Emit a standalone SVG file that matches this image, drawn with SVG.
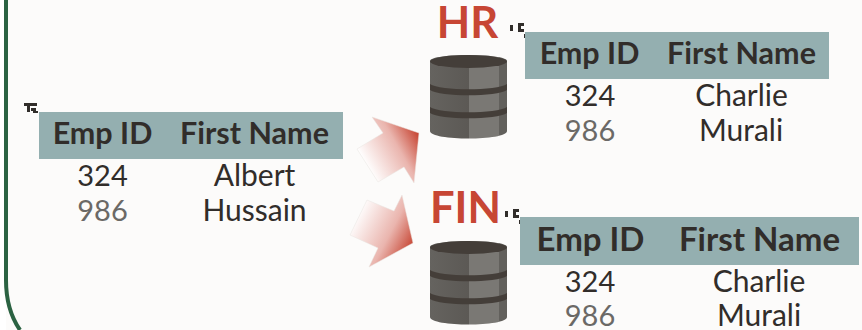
<svg xmlns="http://www.w3.org/2000/svg" width="862" height="330" viewBox="0 0 862 330">
<style>
text{font-family:Lato,"Noto Sans","Liberation Sans",sans-serif;text-anchor:middle;fill:#312D2A}
.h{font-size:30.500px;font-weight:700}
.h3{font-size:33px;font-weight:700}
.c{font-size:30px}
.n{font-size:29px}
.g{fill:#6b6966}
.t{font-size:43.500px;font-weight:700;fill:#C74634}
.hdr{fill:#94AFB0}
.mark{fill:#312D2A}
</style>
<defs>
<linearGradient id="a1" gradientUnits="userSpaceOnUse" x1="366" y1="165" x2="419" y2="135"><stop offset="0" stop-color="#fff"/><stop offset=".6" stop-color="#eab5ae"/><stop offset="1" stop-color="#C74634"/></linearGradient>
<linearGradient id="a2" gradientUnits="userSpaceOnUse" x1="356" y1="215" x2="413" y2="245"><stop offset="0" stop-color="#fff"/><stop offset=".6" stop-color="#eab5ae"/><stop offset="1" stop-color="#C74634"/></linearGradient>
<linearGradient id="body" x1="0" x2="1" y1="0" y2="0"><stop offset="0" stop-color="#65635f"/><stop offset=".5" stop-color="#5c5955"/><stop offset=".5" stop-color="#7a7874"/><stop offset=".9" stop-color="#7a7874"/><stop offset=".9" stop-color="#62605c"/><stop offset="1" stop-color="#62605c"/></linearGradient>
<g id="db">
<path d="M0 6C0-2 77-2 77 6V76C77 86 0 86 0 76Z" fill="url(#body)"/>
<ellipse cx="38.500" cy="6.500" rx="38.500" ry="6.500" fill="#443E39"/>
<path d="M0 29C10 36 67 36 77 29V35C67 42 10 42 0 35ZM0 52C10 59 67 59 77 52V58C67 65 10 65 0 58Z" fill="#443E39"/>
</g>
</defs>
<rect width="862" height="330" fill="#FCFBFA"/>
<rect width="6" height="330" fill="#fff"/>
<g id="connectors">
<path id="frame" d="M6 0V280C6 300 11 317 20 330" fill="none" stroke="#2B6242" stroke-width="4"/>
<polygon points="372,117 419,133 414,183 404,167 378,182 357,149 383,133" fill="url(#a1)" stroke="#e8e4e0" stroke-width=".5"/>
<polygon points="402,195 413,243 369,267 378,248 350,235 367,200 394,211" fill="url(#a2)" stroke="#e8e4e0" stroke-width=".5"/>
</g>
<g id="source-table">
<path class="mark" d="M24 103h13v3h-7v6h-3v-6h-3zM31 108h5v3h2v2h-5v-2h-2z"/>
<rect class="hdr" x="39" y="112" width="304" height="47"/>
<text class="h" x="102.500" y="144">Emp ID</text>
<text class="h" x="254.500" y="144">First Name</text>
<text class="n" x="102.500" y="186">324</text>
<text class="c" x="254.500" y="186">Albert</text>
<text class="n g" x="102.500" y="221">986</text>
<text class="c" x="254.500" y="221">Hussain</text>
</g>
<g id="hr">
<text class="t" x="467.500" y="38">HR</text>
<use href="#db" x="430" y="55"/>
</g>
<g id="hr-table">
<path class="mark" d="M510 25h3v6h-3zM518 23h6v3h-3v3h3v3h-6zM524 34h2v4h-2z"/>
<rect class="hdr" x="525" y="32" width="304" height="47"/>
<text class="h" x="589.500" y="64">Emp ID</text>
<text class="h" x="741.500" y="64">First Name</text>
<text class="n" x="590" y="106">324</text>
<text class="c" x="741.500" y="106">Charlie</text>
<text class="n g" x="590" y="141">986</text>
<text class="c" x="741" y="141">Murali</text>
</g>
<g id="fin">
<text class="t" x="465.500" y="223">FIN</text>
<use href="#db" x="430" y="241"/>
</g>
<g id="fin-table">
<path class="mark" d="M505 211h3v6h-3zM513 209h6v3h-3v3h3v3h-6zM519 220h2v4h-2z"/>
<rect class="hdr" x="520" y="217" width="339" height="48"/>
<text class="h3" x="590.500" y="251">Emp ID</text>
<text class="h3" x="759.500" y="251">First Name</text>
<text class="n" x="590" y="292">324</text>
<text class="c" x="759" y="292">Charlie</text>
<text class="n g" x="590" y="326">986</text>
<text class="c" x="759" y="326">Murali</text>
</g>
</svg>
